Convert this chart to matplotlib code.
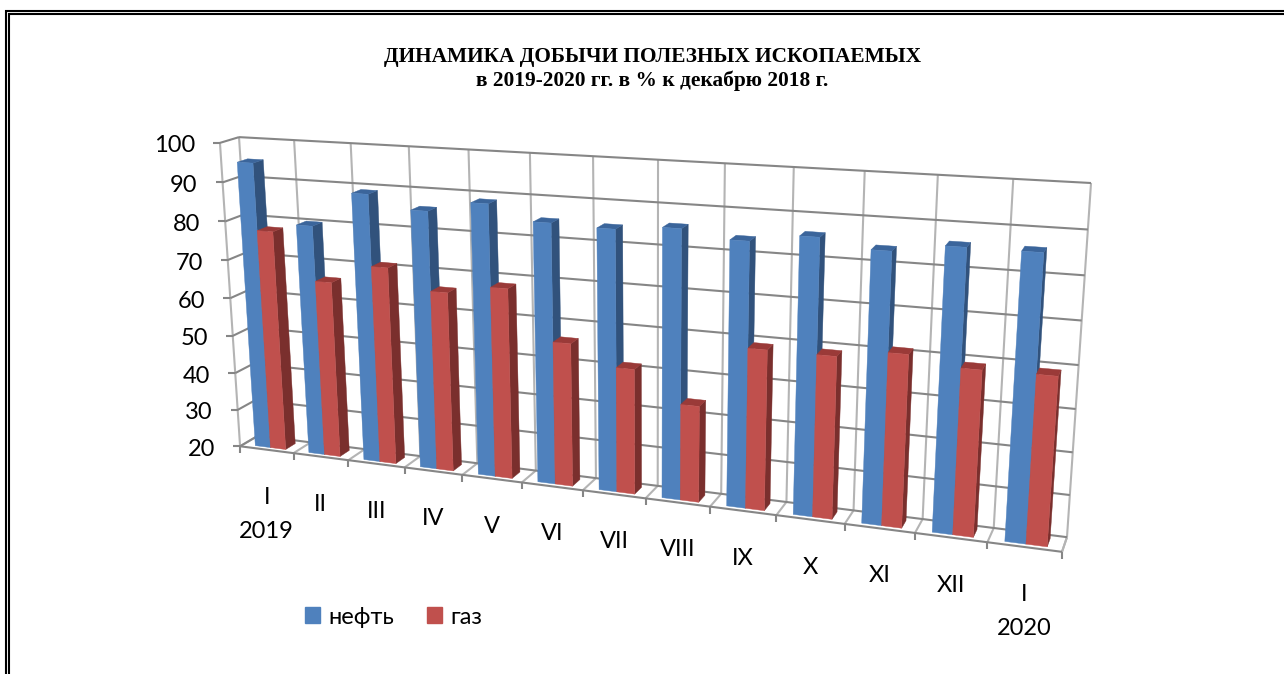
import numpy as np
import matplotlib
matplotlib.use("Agg")
import matplotlib.pyplot as plt
from matplotlib.patches import Polygon, Patch

# ---- data ----
categories = ["I\n2019", "II", "III", "IV", "V", "VI", "VII", "VIII", "IX", "X", "XI", "XII", "I\n2020"]
oil = [95, 80, 89, 85.8, 88.6, 85, 84.6, 85.8, 84, 86, 84, 86, 86]
gas = [77.8, 65.9, 70.9, 65.9, 68.2, 56, 51.2, 43.8, 59, 59, 61, 59, 59.2]
series_names = ["нефть", "газ"]
value_ticks = [20, 30, 40, 50, 60, 70, 80, 90, 100]
title_lines = ["ДИНАМИКА ДОБЫЧИ ПОЛЕЗНЫХ ИСКОПАЕМЫХ", "в 2019-2020 гг. в % к декабрю 2018 г."]

# ---- 3D scale: (category, value, depth) -> figure pixels ----
n = len(categories)
vmin, vmax = value_ticks[0], value_ticks[-1]
anchors = [
    ((0, vmin, 0), (241, 446)), ((n, vmin, 0), (1062, 552)),
    ((0, vmin, 1), (257, 436)), ((n, vmin, 1), (1067, 537)),
    ((0, vmax, 1), (240, 137)), ((n, vmax, 1), (1091, 183)),
    ((0, vmax, 0), (219, 143)),
]
def _norm(c, v, z):
    return np.array([c / n, (v - vmin) / (vmax - vmin), z, 1.0])
rows = []
for (c, v, z), (u, w) in anchors:
    X = _norm(c, v, z)
    rows.append(np.r_[X, np.zeros(4), -u * X])
    rows.append(np.r_[np.zeros(4), X, -w * X])
P = np.linalg.svd(np.array(rows))[2][-1].reshape(3, 4)
def proj(c, v, z):
    h = P @ _norm(c, v, z)
    return h[0] / h[2], h[1] / h[2]

fig = plt.figure(figsize=(12.84, 6.74), dpi=100, facecolor="white")
ax = fig.add_axes([0, 0, 1, 1])
ax.set_xlim(0, 1284)
ax.set_ylim(674, 0)
ax.axis("off")

SANS = ["Lato", "Open Sans", "DejaVu Sans"]
DARK = "#868686"
LIGHT = "#b4b4b4"

def seg(a, b, color, lw=1.5, z=1):
    ax.plot([a[0], b[0]], [a[1], b[1]], color=color, lw=lw, zorder=z, solid_capstyle="butt")

# page border (top and left double rules)
for off, start in ((11, 5), (14, 8)):
    ax.plot([start, 1284], [off, off], color="black", lw=1.5, zorder=0, solid_capstyle="butt")
for off, start in ((6, 10), (9, 13)):
    ax.plot([off, off], [start, 674], color="black", lw=1.5, zorder=0, solid_capstyle="butt")

# vertical grid
for i in range(n + 1):
    seg(proj(i, vmin, 1), proj(i, vmax, 1), LIGHT)
    seg(proj(i, vmin, 0), proj(i, vmin, 1), LIGHT)
seg(proj(0, vmin, 0), proj(0, vmax, 0), LIGHT)
seg(proj(n, vmin, 0), proj(n, vmin, 1), LIGHT)
# horizontal grid
for v in value_ticks:
    seg(proj(0, v, 0), proj(0, v, 1), DARK)
    seg(proj(0, v, 1), proj(n, v, 1), DARK)
    a = proj(0, v, 0)
    seg((a[0] - 7, a[1]), a, DARK)
    ax.text(a[0] - 25, a[1] + 3, str(v), ha="right", va="center", fontsize=17, family=SANS, color="black")
# front axis and ticks
seg(proj(0, vmin, 0), proj(n, vmin, 0), DARK)
for i in range(n + 1):
    a = proj(i, vmin, 0)
    seg(a, (a[0], a[1] + 7), DARK)
for i, lab in enumerate(categories):
    a = proj(i + 0.5, vmin, 0)
    ax.text(a[0], a[1] + 37, lab, ha="center", va="top", fontsize=17, family=SANS, color="black", linespacing=1.76)

# bars
z0, z1 = 0.2, 0.75
edges = [0.22, 0.505, 0.79]
styles = [("#4F81BD", "#31527C", "#3B659B"), ("#C0504D", "#7A2F2D", "#9A3A38")]
order = 5
for i in range(n):
    for s, vals in enumerate((oil, gas)):
        v = vals[i]
        xa, xb = i + edges[s], i + edges[s + 1]
        front, side, top = styles[s]
        ax.add_patch(Polygon([proj(xb, vmin, z0), proj(xb, v, z0), proj(xb, v, z1), proj(xb, vmin, z1)],
                             fc=side, ec=side, lw=0.3, zorder=order))
        ax.add_patch(Polygon([proj(xa, v, z0), proj(xb, v, z0), proj(xb, v, z1), proj(xa, v, z1)],
                             fc=top, ec=top, lw=0.3, zorder=order))
        ax.add_patch(Polygon([proj(xa, vmin, z0), proj(xb, vmin, z0), proj(xb, v, z0), proj(xa, v, z0)],
                             fc=front, ec=front, lw=0.3, zorder=order))
        order += 1

# title
ax.text(652, 57, title_lines[0], ha="center", va="center", fontsize=15.4, fontweight="bold",
        family="Liberation Serif", color="black")
ax.text(652, 81, title_lines[1], ha="center", va="center", fontsize=15.4, fontweight="bold",
        family="Liberation Serif", color="black")

# legend
handles = [Patch(color=styles[k][0], label=series_names[k]) for k in range(2)]
leg = ax.legend(handles=handles, ncol=2, frameon=False, loc="center left",
                bbox_to_anchor=(305, 617), bbox_transform=ax.transData, borderaxespad=0, borderpad=0,
                handlelength=0.64, handleheight=0.64, handletextpad=0.34, columnspacing=1.4,
                prop={"family": SANS, "size": 17})
fig.savefig("out.png", dpi=100, facecolor="white")
